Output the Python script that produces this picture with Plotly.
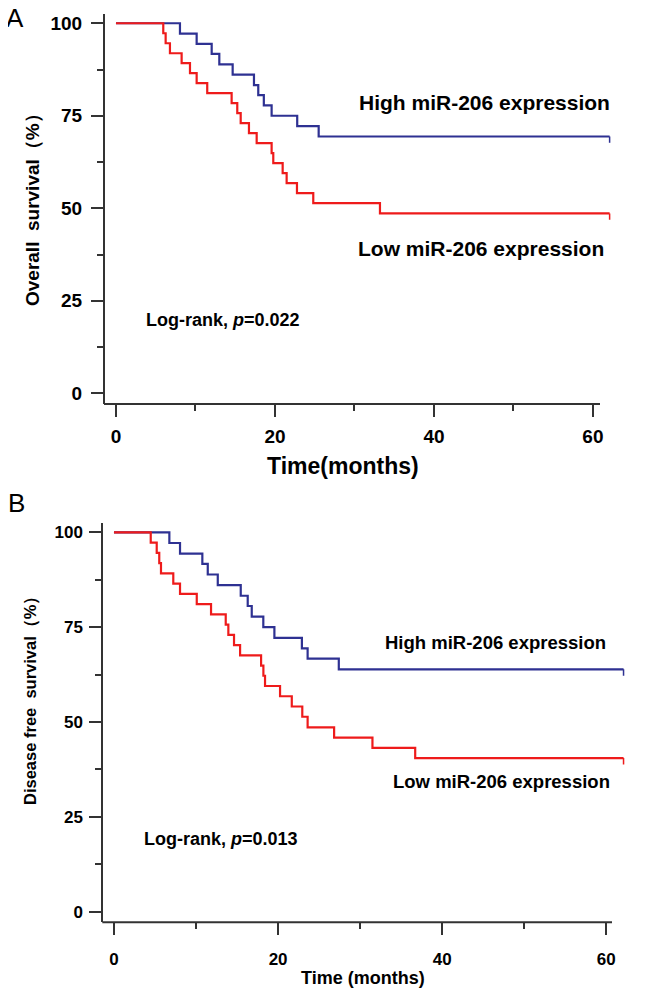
import plotly.graph_objects as go

# page is 645x991; the html body has an 8px margin, so the figure is drawn 8px in
OX, OY = 8, 8
FW, FH = 637, 983

# ---------------- data ----------------
# Panel A: overall survival (%)
a_high_times = [8.05, 10.15, 12.04, 13.0, 14.68, 17.36, 17.9, 18.6, 19.58, 22.8, 25.5]
a_high_surv = [97.2, 94.4, 91.7, 88.9, 86.1, 83.3, 80.6, 77.8, 75.0, 72.2, 69.4]
a_low_times = [5.95, 6.25, 6.79, 8.26, 9.31, 10.15, 11.48, 14.55, 15.26, 15.69,
               16.73, 17.70, 19.58, 19.79, 20.97, 21.47, 22.77, 24.82, 33.21]
a_low_surv = [97.3, 94.6, 91.9, 89.2, 86.5, 83.8, 81.1, 78.4, 75.7, 73.0,
              70.3, 67.6, 64.9, 62.2, 59.5, 56.8, 54.1, 51.4, 48.6]
a_end = 62.1

# Panel B: disease free survival (%)
b_high_times = [6.75, 8.05, 10.77, 11.43, 12.65, 15.45, 16.30, 16.79, 18.20, 19.55, 22.9, 23.6, 27.4]
b_high_surv = [97.2, 94.4, 91.7, 88.9, 86.1, 83.3, 80.6, 77.8, 75.0, 72.2, 69.4, 66.7, 63.9]
b_low_times = [4.48, 5.21, 5.52, 5.73, 7.23, 8.05, 10.09, 11.83, 13.62, 13.94, 14.63,
               15.37, 17.93, 18.21, 18.41, 20.24, 21.67, 22.95, 23.6, 26.83, 31.50, 36.71]
b_low_surv = [97.3, 94.6, 91.9, 89.2, 86.5, 83.8, 81.1, 78.4, 75.7, 73.0, 70.3,
              67.6, 64.9, 62.2, 59.5, 56.8, 54.1, 51.4, 48.6, 45.9, 43.2, 40.5]
b_end = 62.1

x_ticks = [0, 20, 40, 60]
y_ticks = [0, 25, 50, 75, 100]

RED = "#ee1b1b"
BLUE = "#2e3192"
AXC = "#333333"
FONT = "Liberation Sans"


def px(x):
    return (x - OX) / FW


def py(y):
    return 1 - (y - OY) / FH


fig = go.Figure()


def add_km(times, surv, end, color, xa, ya):
    xs = [0] + list(times) + [end]
    ys = [100] + list(surv) + [surv[-1]]
    fig.add_trace(go.Scatter(x=xs, y=ys, mode="lines", line=dict(color=color, width=2.2, shape="hv"),
                             xaxis=xa, yaxis=ya, showlegend=False, hoverinfo="skip"))
    # small end tick
    fig.add_trace(go.Scatter(x=[end, end], y=[surv[-1], surv[-1] - 1.7], mode="lines",
                             line=dict(color=color, width=1.5), xaxis=xa, yaxis=ya,
                             showlegend=False, hoverinfo="skip"))


add_km(a_high_times, a_high_surv, a_end, BLUE, "x", "y")
add_km(a_low_times, a_low_surv, a_end, RED, "x", "y")
add_km(b_high_times, b_high_surv, b_end, BLUE, "x2", "y2")
add_km(b_low_times, b_low_surv, b_end, RED, "x2", "y2")


def xaxis(domain, rng, anchor, fsize, standoff):
    return dict(domain=domain, range=rng, anchor=anchor, tickvals=x_ticks,
                showline=False, showgrid=False, zeroline=False,
                ticks="outside", ticklen=12, tickwidth=2, tickcolor=AXC,
                minor=dict(ticks="outside", dtick=10, tick0=0, ticklen=6, tickwidth=2, tickcolor=AXC, showgrid=False),
                tickfont=dict(family=FONT, size=fsize, color="black", weight="bold"),
                ticklabelstandoff=standoff)


def yaxis(domain, rng, anchor, fsize, standoff):
    return dict(domain=domain, range=rng, anchor=anchor, tickvals=y_ticks,
                showline=True, linecolor=AXC, linewidth=2, showgrid=False, zeroline=False,
                ticks="outside", ticklen=12, tickwidth=2, tickcolor=AXC,
                minor=dict(ticks="outside", dtick=12.5, tick0=0, ticklen=6, tickwidth=2, tickcolor=AXC, showgrid=False),
                tickfont=dict(family=FONT, size=fsize, color="black", weight="bold"),
                ticklabelstandoff=standoff)


fig.update_layout(
    width=FW, height=FH, margin=dict(l=0, r=0, t=0, b=0),
    plot_bgcolor="white", paper_bgcolor="white",
    xaxis=xaxis([px(105), px(612)], [-1.38, 62.4], "y", 19, 3),
    yaxis=yaxis([py(404), py(14)], [-2.89, 102.5], "x", 19, 5),
    xaxis2=xaxis([px(103.3), px(626)], [-1.3, 62.4], "y2", 17, 9),
    yaxis2=yaxis([py(922.3), py(523.3)], [-2.8, 102.4], "x2", 17, 3),
)

# x-axis lines (end slightly after 60)
fig.add_shape(type="line", xref="paper", yref="paper", x0=px(104), x1=px(600), y0=py(404), y1=py(404),
              line=dict(color=AXC, width=2))
fig.add_shape(type="line", xref="paper", yref="paper", x0=px(102.3), x1=px(612), y0=py(922.3), y1=py(922.3),
              line=dict(color=AXC, width=2))


def ann(text, x, y, size, xanchor="center", bold=True, angle=0, xref="paper", yref="paper"):
    fig.add_annotation(text=text, x=x, y=y, xref=xref, yref=yref, xanchor=xanchor, yanchor="middle",
                       showarrow=False, textangle=angle,
                       font=dict(family=FONT, size=size, color="black", weight="bold" if bold else "normal"))


# panel letters
ann("A", px(15), py(18), 26, bold=False)
ann("B", px(16), py(503), 26, bold=False)

# axis titles
ann("Overall  survival（%）", px(32), py(205), 19, angle=-90)
ann("Time(months)", px(343), py(466), 23)
ann("Disease free  survival（%）", px(30), py(697), 16.5, angle=-90)
ann("Time (months)", px(363), py(978), 18)

# curve labels
ann("High miR-206 expression", 30.3, 78.7, 21, xanchor="left", xref="x", yref="y")
ann("Low miR-206 expression", 30.2, 39.2, 21, xanchor="left", xref="x", yref="y")
ann("Log-rank, <i>p</i>=0.022", 3.5, 19.7, 18, xanchor="left", xref="x", yref="y")

ann("High miR-206 expression", 32.8, 71.1, 18.5, xanchor="left", xref="x2", yref="y2")
ann("Low miR-206 expression", 33.8, 34.2, 18.5, xanchor="left", xref="x2", yref="y2")
ann("Log-rank, <i>p</i>=0.013", 3.4, 19.2, 18, xanchor="left", xref="x2", yref="y2")

fig.write_html("out.html")
